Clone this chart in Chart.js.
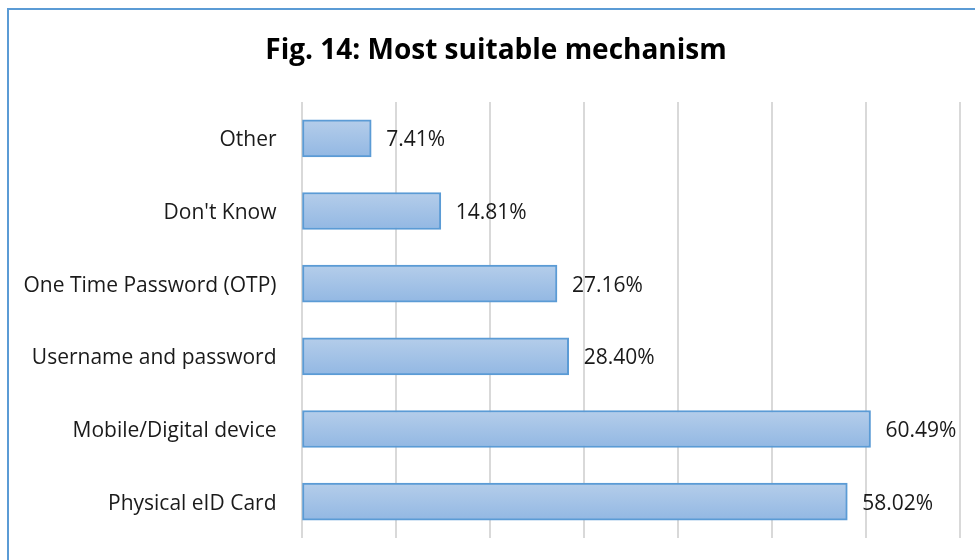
<!DOCTYPE html>
<html>
<head>
<meta charset="utf-8">
<script src="https://cdn.jsdelivr.net/npm/chart.js@4.4.0/dist/chart.umd.min.js"></script>
<style>
    body { margin: 0; background: #fff; }
    #caja { position: relative; width: 975px; height: 560px; overflow: hidden; }
    #marco { position: absolute; left: 7px; top: 8px; width: 1000px; height: 600px; border: 2px solid #5b9bd5; pointer-events: none; }
    canvas { position: absolute; left: 0; top: 0; }
</style>
</head>
<body>
<div id="caja">
    <canvas id="mecanismo" width="975" height="560"></canvas>
    <div id="marco"></div>
</div>
<script>
const titulo = 'Fig. 14: Most suitable mechanism';
const nombres = ['Other', "Don't Know", 'One Time Password (OTP)', 'Username and password', 'Mobile/Digital device', 'Physical eID Card'];
const porcentajes = [7.41, 14.81, 27.16, 28.40, 60.49, 58.02];
const ejeMax = 70;
const ejePaso = 10;

const fuente = '"Open Sans", Lato, sans-serif';

// titulo y etiquetas de valor al final de cada barra
const etiquetas = {
    id: 'etiquetas',
    afterDatasetsDraw(chart) {
        const ctx = chart.ctx;
        const meta = chart.getDatasetMeta(0);
        ctx.save();
        ctx.font = '21px ' + fuente;
        ctx.fillStyle = '#1a1a1a';
        ctx.textAlign = 'left';
        ctx.textBaseline = 'middle';
        meta.data.forEach(function (barra, i) {
            ctx.fillText(porcentajes[i].toFixed(2) + '%', barra.x + 15, barra.y + 2);
        });
        ctx.font = 'bold 28px ' + fuente;
        ctx.fillStyle = '#000';
        ctx.textAlign = 'center';
        ctx.fillText(titulo, 496, 51);
        ctx.restore();
    }
};

function degradado(context) {
    const chart = context.chart;
    const y = chart.scales.y;
    if (!chart.chartArea || !y || context.dataIndex === undefined) return '#a3c1e6';
    const centro = y.getPixelForValue(context.dataIndex);
    const g = chart.ctx.createLinearGradient(0, centro - 18, 0, centro + 18);
    g.addColorStop(0, '#b4cdea');
    g.addColorStop(1, '#93b8e3');
    return g;
}

const ctx = document.getElementById('mecanismo');
const grafico = new Chart(ctx, {
    type: 'bar',
    data: {
        labels: nombres,
        datasets: [{
            data: porcentajes,
            backgroundColor: degradado,
            borderColor: '#5b9bd5',
            borderWidth: 2,
            borderSkipped: false,
            barThickness: 37
        }]
    },
    options: {
        indexAxis: 'y',
        responsive: false,
        animation: false,
        layout: { padding: { left: 5, right: 15, top: 102, bottom: 22 } },
        plugins: {
            legend: { display: false },
            tooltip: { enabled: false },
            title: { display: false }
        },
        scales: {
            x: {
                min: 0,
                max: ejeMax,
                ticks: { display: false, stepSize: ejePaso },
                grid: { color: '#d9d9d9', lineWidth: 2, drawTicks: false },
                border: { display: false },
                afterFit: function (s) { s.height = 0; }
            },
            y: {
                grid: { display: false, drawTicks: false },
                border: { display: false },
                ticks: { color: '#1a1a1a', padding: 25, labelOffset: 2, font: { family: fuente, size: 21 } },
                afterFit: function (s) {
                    s.width = 296.5;
                    s.paddingTop = 0;
                    s.paddingBottom = 0;
                }
            }
        }
    },
    plugins: [etiquetas]
});
</script>
</body>
</html>
